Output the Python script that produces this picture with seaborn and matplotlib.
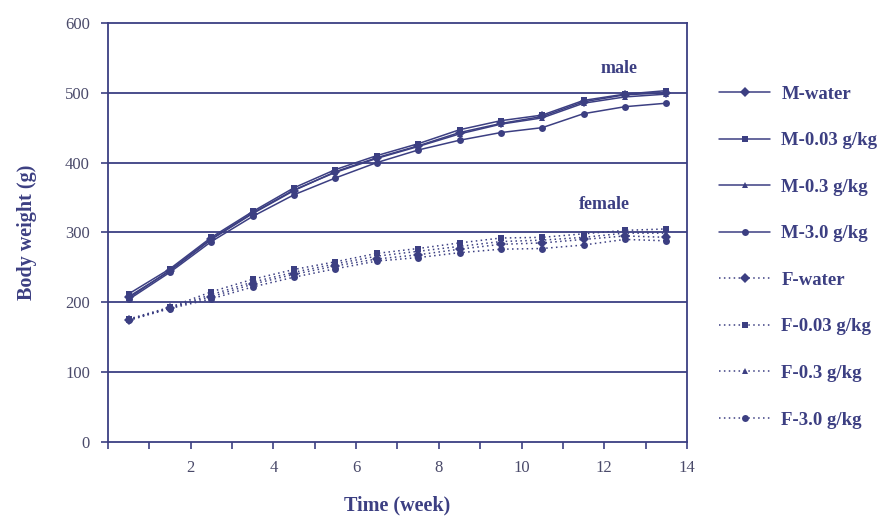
import numpy as np
import pandas as pd
import matplotlib
matplotlib.use("Agg")
import matplotlib.pyplot as plt
import seaborn as sns
from matplotlib.ticker import MultipleLocator

weeks = [0.5, 1.5, 2.5, 3.5, 4.5, 5.5, 6.5, 7.5, 8.5, 9.5, 10.5, 11.5, 12.5, 13.5]
M_water = [208, 245, 290, 327, 360, 387, 407, 424, 443, 456, 466, 487, 497, 500]
M_003 = [212, 248, 293, 330, 364, 390, 410, 427, 447, 460, 468, 489, 498, 503]
M_03 = [206, 246, 291, 328, 361, 386, 406, 423, 441, 455, 464, 485, 494, 498]
M_30 = [204, 243, 287, 323, 354, 378, 400, 418, 432, 443, 450, 470, 480, 485]
F_water = [175, 192, 208, 226, 240, 252, 262, 268, 276, 283, 285, 290, 295, 293]
F_003 = [176, 193, 215, 233, 247, 258, 270, 277, 285, 292, 293, 298, 303, 305]
F_03 = [175, 192, 211, 229, 243, 255, 266, 273, 280, 287, 289, 293, 299, 299]
F_30 = [174, 191, 205, 222, 236, 248, 259, 264, 271, 276, 277, 282, 290, 288]

labels = ["M-water", "M-0.03 g/kg", "M-0.3 g/kg", "M-3.0 g/kg",
          "F-water", "F-0.03 g/kg", "F-0.3 g/kg", "F-3.0 g/kg"]
series = [M_water, M_003, M_03, M_30, F_water, F_003, F_03, F_30]
markers_list = ["D", "s", "^", "o", "D", "s", "^", "o"]

rows = []
for lab, vals in zip(labels, series):
    for w, v in zip(weeks, vals):
        rows.append({"week": w, "weight": v, "group": lab})
df = pd.DataFrame(rows)

sns.set_theme(style="white")
plt.rcParams['font.family'] = ['Liberation Serif', 'DejaVu Serif']

C = "#3c3f82"
fig = plt.figure(figsize=(8.96, 5.2), dpi=100)
ax = fig.add_axes([0.1205, 0.15, 0.6462, 0.806])

markers = {l: m for l, m in zip(labels, markers_list)}
dashes = {l: ("" if l.startswith("M") else (1, 2.2)) for l in labels}
palette = {l: C for l in labels}

sns.lineplot(data=df, x="week", y="weight", hue="group", style="group",
             hue_order=labels, style_order=labels,
             markers=markers, dashes=dashes, palette=palette,
             markersize=5, linewidth=1.1, markeredgewidth=0, ax=ax, legend=True)

ax.set_xlim(0, 14)
ax.set_ylim(0, 600)
ax.set_yticks(range(0, 601, 100))
ax.set_xticks(range(2, 15, 2))
ax.xaxis.set_minor_locator(MultipleLocator(1))
for y in range(100, 600, 100):
    ax.axhline(y, color=C, lw=1.3, zorder=0)

for s in ["left", "bottom", "right", "top"]:
    ax.spines[s].set_visible(True)
    ax.spines[s].set_color(C)
    ax.spines[s].set_linewidth(1.3)

ax.tick_params(axis="both", which="both", direction="out", color=C,
               labelcolor="#4a4a6a", labelsize=12)
ax.tick_params(axis="both", which="major", length=5, width=1.2, bottom=True, left=True)
ax.tick_params(axis="x", which="minor", length=5, width=1.2, bottom=True)
ax.tick_params(axis="x", pad=8)
ax.tick_params(axis="y", pad=8)

ax.set_xlabel("Time (week)", fontsize=14.5, fontweight="bold", color=C, labelpad=14)
ax.set_ylabel("Body weight (g)", fontsize=14.5, fontweight="bold", color=C, labelpad=20)

ax.text(12.35, 535, "male", ha="center", va="center", fontsize=13,
        fontweight="bold", color=C)
ax.text(12.0, 340, "female", ha="center", va="center", fontsize=13,
        fontweight="bold", color=C)

handles, labs = ax.get_legend_handles_labels()
ax.get_legend().remove()
leg = fig.legend(handles, labs, loc="upper left", bbox_to_anchor=(0.784, 0.868),
                 frameon=False, fontsize=13.5, labelspacing=1.57,
                 handlelength=2.7, handletextpad=0.6, labelcolor=C)
for t in leg.get_texts():
    t.set_fontweight("bold")

fig.savefig("out.png", dpi=100)
